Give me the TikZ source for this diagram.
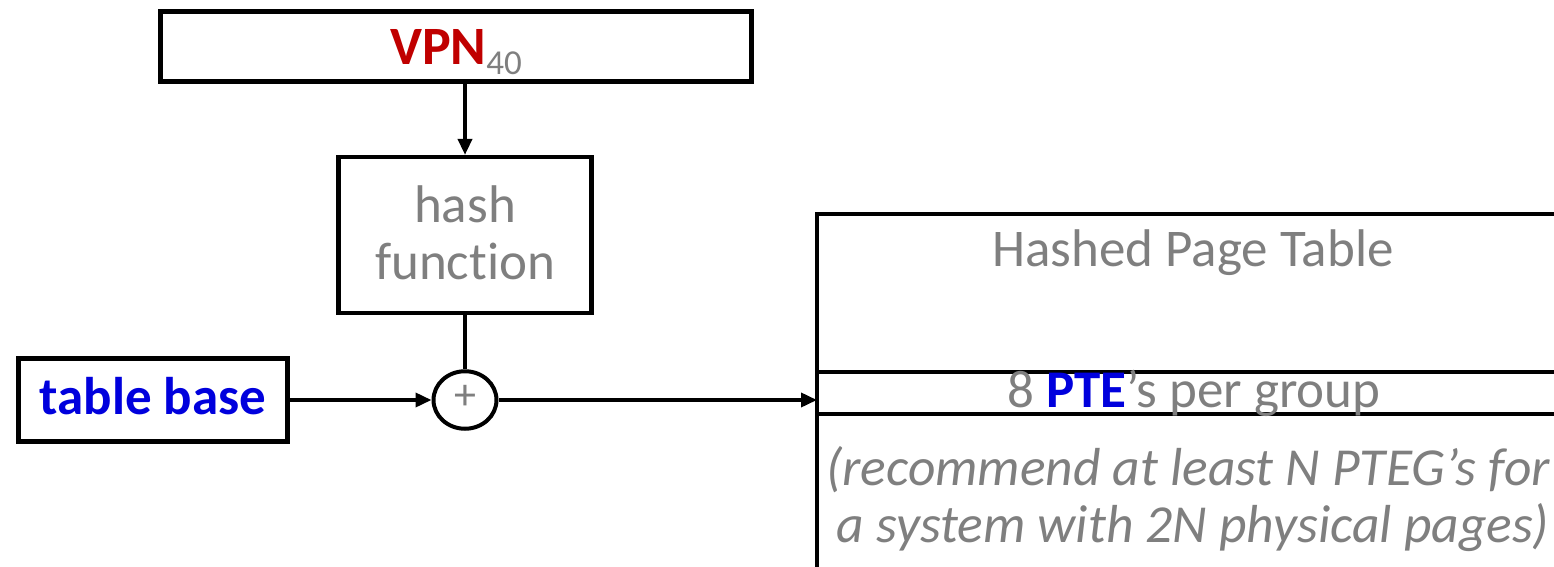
\documentclass[tikz,border=0pt]{standalone}
\usepackage{fontspec}
\setmainfont{Carlito}[Ligatures=NoCommon]
\usetikzlibrary{arrows.meta,shapes.geometric}
\definecolor{txtgray}{HTML}{7F7F7F}
\definecolor{vpnred}{HTML}{C00000}
\definecolor{baseblue}{HTML}{0000DD}

\tikzset{
  boxnode/.style={draw=black, line width=4.2pt, inner sep=0pt, fill=white},
  bigtext/.style={font=\fontsize{53}{58}\selectfont},
  flow/.style={line width=3.6pt, -{Triangle[length=16pt,width=14pt]}},
  plain/.style={line width=4pt},
  rule/.style={line width=4pt},
}

\begin{document}
\begin{tikzpicture}[x=1pt,y=-1pt]
  \useasboundingbox (0,0) rectangle (1554,567);

  % VPN input register
  \node[boxnode, minimum width=591pt, minimum height=70pt] (vpn) at (456,46.5) {};
  \node[anchor=base, text=vpnred, font=\fontsize{54}{60}\selectfont\bfseries] (vpntxt) at (456,65)
    {VPN\raisebox{-10pt}{\textcolor{txtgray}{\fontsize{35}{40}\selectfont\mdseries 40}}};

  % hash function block
  \node[boxnode, minimum width=253pt, minimum height=156pt] (hash) at (465,235) {};
  \node[anchor=base, text=txtgray, bigtext] (hash1) at (465,222) {hash};
  \node[anchor=base, text=txtgray, bigtext] (hash2) at (465,279) {function};

  % adder
  \node[boxnode, line width=4pt, ellipse, minimum width=63pt, minimum height=57.5pt] (add) at (465,400) {};
  \node[text=txtgray, font=\fontsize{44}{44}\selectfont] (plus) at (465,397) {+};

  % table base register
  \node[boxnode, minimum width=269pt, minimum height=83pt] (base) at (153,400) {};
  \node[anchor=base, text=baseblue, font=\fontsize{53}{58}\selectfont\bfseries] (basetxt) at (153,414) {table base};

  % hashed page table outline
  \coordinate (tblTL) at (817,213.5);
  \coordinate (tblBL) at (817,570);
  \coordinate (tblTR) at (1560,213.5);
  \coordinate (tblIn) at (817,400);
  \coordinate (grpTL) at (817,371.5);
  \coordinate (grpTR) at (1560,371.5);
  \coordinate (grpBL) at (817,413.5);
  \coordinate (grpBR) at (1560,413.5);
  \draw[rule] (tblBL) -- (tblTL) -- (tblTR);
  \draw[rule] (grpTL) -- (grpTR);
  \draw[rule] (grpBL) -- (grpBR);

  \node[anchor=base, text=txtgray, bigtext] (tbltitle) at (1193,266) {Hashed Page Table};
  \node[anchor=base, text=txtgray, bigtext] (grptxt) at (1194,407)
    {8 \textcolor{baseblue}{\bfseries PTE}’s per group};
  \node[anchor=base, text=txtgray, font=\fontsize{53.5}{58}\selectfont\itshape] (note1) at (1188,485)
    {(recommend at least N PTEG’s for};
  \node[anchor=base, text=txtgray, font=\fontsize{53.5}{58}\selectfont\itshape] (note2) at (1193,542)
    {a system with 2N physical pages)};

  % connectors
  \draw[flow] (vpn.south -| hash.north) -- (hash.north);
  \draw[plain] (hash.south) -- (add.north);
  \draw[flow] (base.east) -- (add.west);
  \draw[flow] (add.east) -- (tblIn);
\end{tikzpicture}
\end{document}
